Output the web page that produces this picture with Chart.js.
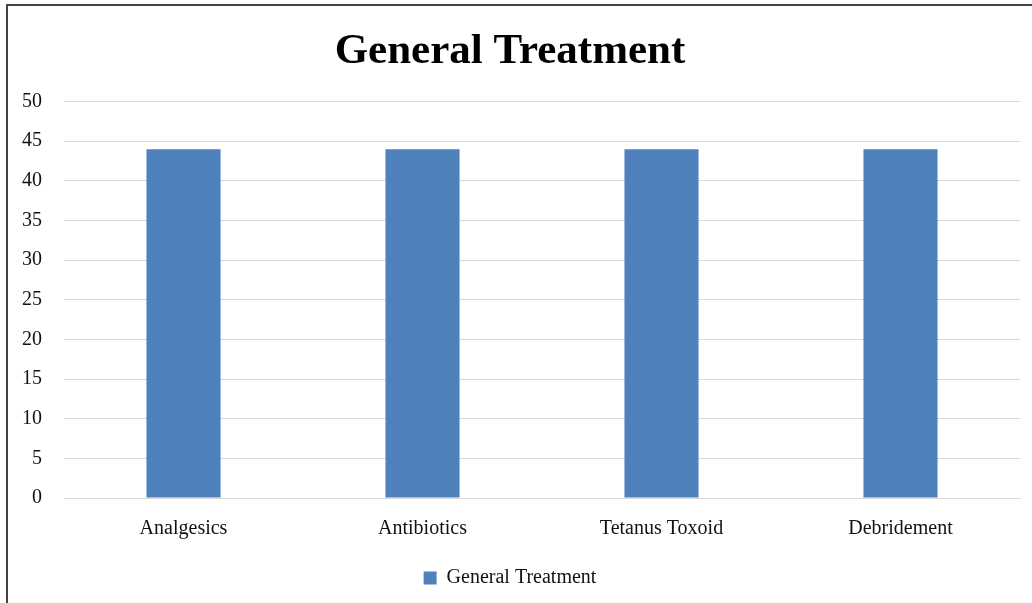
<!DOCTYPE html>
<html lang="en">
<head>
<meta charset="UTF-8">
<title>General Treatment</title>
<script src="https://cdn.jsdelivr.net/npm/chart.js"></script>
<style>
  body { margin: 0; background: #fff; }
  .wrap { position: relative; width: 1032px; height: 603px; overflow: hidden; }
  .frame {
    position: absolute; left: 6px; top: 4px; width: 1100px; height: 700px;
    border: 2px solid #444; pointer-events: none;
  }
  canvas { position: absolute; left: 0; top: 0; }
</style>
</head>
<body>
<div class="wrap">
  <canvas id="chart" width="1032" height="603"></canvas>
  <div class="frame"></div>
</div>
<script>
const categories = ['Analgesics', 'Antibiotics', 'Tetanus Toxoid', 'Debridement'];
const treatmentValues = [44, 44, 44, 44];
const seriesName = 'General Treatment';

const serif = '"Liberation Serif", "Times New Roman", serif';

new Chart(document.getElementById('chart'), {
  type: 'bar',
  data: {
    labels: categories,
    datasets: [{
      label: seriesName,
      data: treatmentValues,
      backgroundColor: '#4f81bd',
      borderWidth: 0,
      categoryPercentage: 1,
      barPercentage: 0.31
    }]
  },
  options: {
    responsive: false,
    animation: false,
    layout: { padding: { left: 0, right: 12, top: 14, bottom: 5 } },
    plugins: {
      title: {
        display: true,
        text: 'General Treatment',
        color: '#000',
        font: { family: serif, size: 43, weight: 'bold' },
        padding: { top: 12, bottom: 24 }
      },
      legend: {
        position: 'bottom',
        labels: {
          color: '#111',
          font: { family: serif, size: 20 },
          boxWidth: 13,
          boxHeight: 13,
          padding: 8
        }
      },
      tooltip: { enabled: false }
    },
    scales: {
      x: {
        grid: { display: false, drawTicks: false },
        border: { display: true, color: '#d9d9d9' },
        ticks: { color: '#111', font: { family: serif, size: 20 }, padding: 19 }
      },
      y: {
        min: 0,
        max: 50,
        ticks: { stepSize: 5, color: '#111', font: { family: serif, size: 20 }, padding: 22 },
        grid: { color: '#d9d9d9', drawTicks: false },
        border: { display: false }
      }
    }
  }
});
</script>
</body>
</html>
